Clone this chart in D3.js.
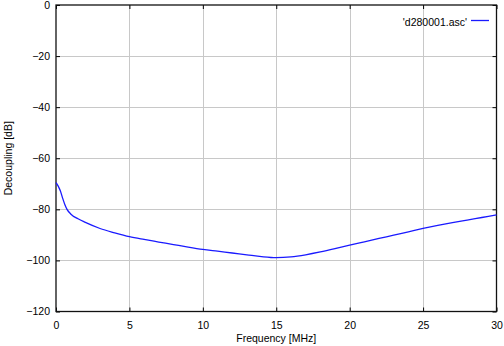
<!DOCTYPE html>
<html>
<head>
<meta charset="utf-8">
<script src="https://cdn.jsdelivr.net/npm/d3@7"></script>
<style>
    body { margin: 0; background: #fff; }
    svg text { font-family: "Liberation Sans", Arial, sans-serif; font-size: 10.5px; fill: #000; }
</style>
</head>
<body>
<svg id="chart" width="504" height="346"></svg>
<script>
// frequency in MHz, decoupling in dB
const freq = [0, 0.1, 0.2, 0.3, 0.45, 0.6, 0.75, 1, 1.5, 2, 3, 4, 5, 6, 7, 8, 9, 10,
    11, 12, 13, 14, 15, 16, 17, 18, 19, 20, 21, 22, 23, 24, 25, 26, 27, 28, 29, 30];
const decoupling = [-69.5, -70.4, -71.5, -72.8, -75.6, -78.1, -80, -81.8, -83.7, -85.1, -87.5, -89.2, -90.7,
    -91.8, -92.8, -93.8, -94.8, -95.7, -96.4, -97.1, -97.8, -98.5, -98.9, -98.6, -97.8, -96.7,
    -95.4, -94, -92.7, -91.4, -90.1, -88.8, -87.5, -86.3, -85.2, -84.2, -83.2, -82.2];
const xTicks = [0, 5, 10, 15, 20, 25, 30];
const yTicks = [0, -20, -40, -60, -80, -100, -120];
const seriesName = "'d280001.asc'";

const svg = d3.select("#chart");
const plotL = 56, plotR = 496.5, plotT = 5, plotB = 311.5;

const x = d3.scaleLinear().domain([0, 30]).range([plotL, plotR]);
const y = d3.scaleLinear().domain([-120, 0]).range([plotB, plotT]);

// grid
svg.append("g").selectAll("line").data(xTicks.slice(1, -1)).join("line")
    .attr("x1", d => Math.round(x(d)) + 0.5).attr("x2", d => Math.round(x(d)) + 0.5)
    .attr("y1", plotT).attr("y2", plotB)
    .attr("stroke", "#c8c8c8").attr("stroke-width", 1);
svg.append("g").selectAll("line").data(yTicks.slice(1, -1)).join("line")
    .attr("y1", d => Math.round(y(d)) + 0.5).attr("y2", d => Math.round(y(d)) + 0.5)
    .attr("x1", plotL).attr("x2", plotR)
    .attr("stroke", "#c8c8c8").attr("stroke-width", 1);

// axes (ticks inward, mirrored)
const xAxis = d3.axisBottom(x).tickValues(xTicks).tickSizeInner(-4).tickSizeOuter(0).tickPadding(10);
const yAxis = d3.axisLeft(y).tickValues(yTicks).tickSizeInner(-4).tickSizeOuter(0).tickPadding(6);
svg.append("g").attr("transform", "translate(0," + plotB + ")").call(xAxis);
svg.append("g").attr("transform", "translate(" + plotL + ",0)").call(yAxis);
svg.append("g").attr("transform", "translate(0," + plotT + ")")
    .call(d3.axisTop(x).tickValues(xTicks).tickSizeInner(-4).tickSizeOuter(0).tickFormat(""));
svg.append("g").attr("transform", "translate(" + plotR + ",0)")
    .call(d3.axisRight(y).tickValues(yTicks).tickSizeInner(-4).tickSizeOuter(0).tickFormat(""));
svg.selectAll(".domain").remove();
svg.selectAll(".tick line").attr("stroke", "#000");
svg.selectAll(".tick text").style("font-family", "'Liberation Sans', Arial, sans-serif").style("font-size", "10.5px");

// frame
svg.append("rect")
    .attr("x", plotL).attr("y", plotT)
    .attr("width", plotR - plotL).attr("height", plotB - plotT)
    .attr("fill", "none").attr("stroke", "#111").attr("stroke-width", 1.3);

// curve
const line = d3.line()
    .x((d, i) => x(freq[i]))
    .y(d => y(d))
    .curve(d3.curveMonotoneX);
svg.append("path")
    .datum(decoupling)
    .attr("d", line)
    .attr("fill", "none")
    .attr("stroke", "#1a1aff")
    .attr("stroke-width", 1.3);

// legend
svg.append("text").attr("x", 467).attr("y", 26).attr("text-anchor", "end").text(seriesName);
svg.append("line").attr("x1", 471).attr("x2", 489).attr("y1", 20.5).attr("y2", 20.5)
    .attr("stroke", "#1a1aff").attr("stroke-width", 1.3);

// axis titles
svg.append("text").attr("x", (plotL + plotR) / 2).attr("y", 342)
    .attr("text-anchor", "middle").text("Frequency [MHz]");
svg.append("text")
    .attr("transform", "translate(12," + (plotT + plotB) / 2 + ") rotate(-90)")
    .attr("text-anchor", "middle").text("Decoupling [dB]");
</script>
</body>
</html>
